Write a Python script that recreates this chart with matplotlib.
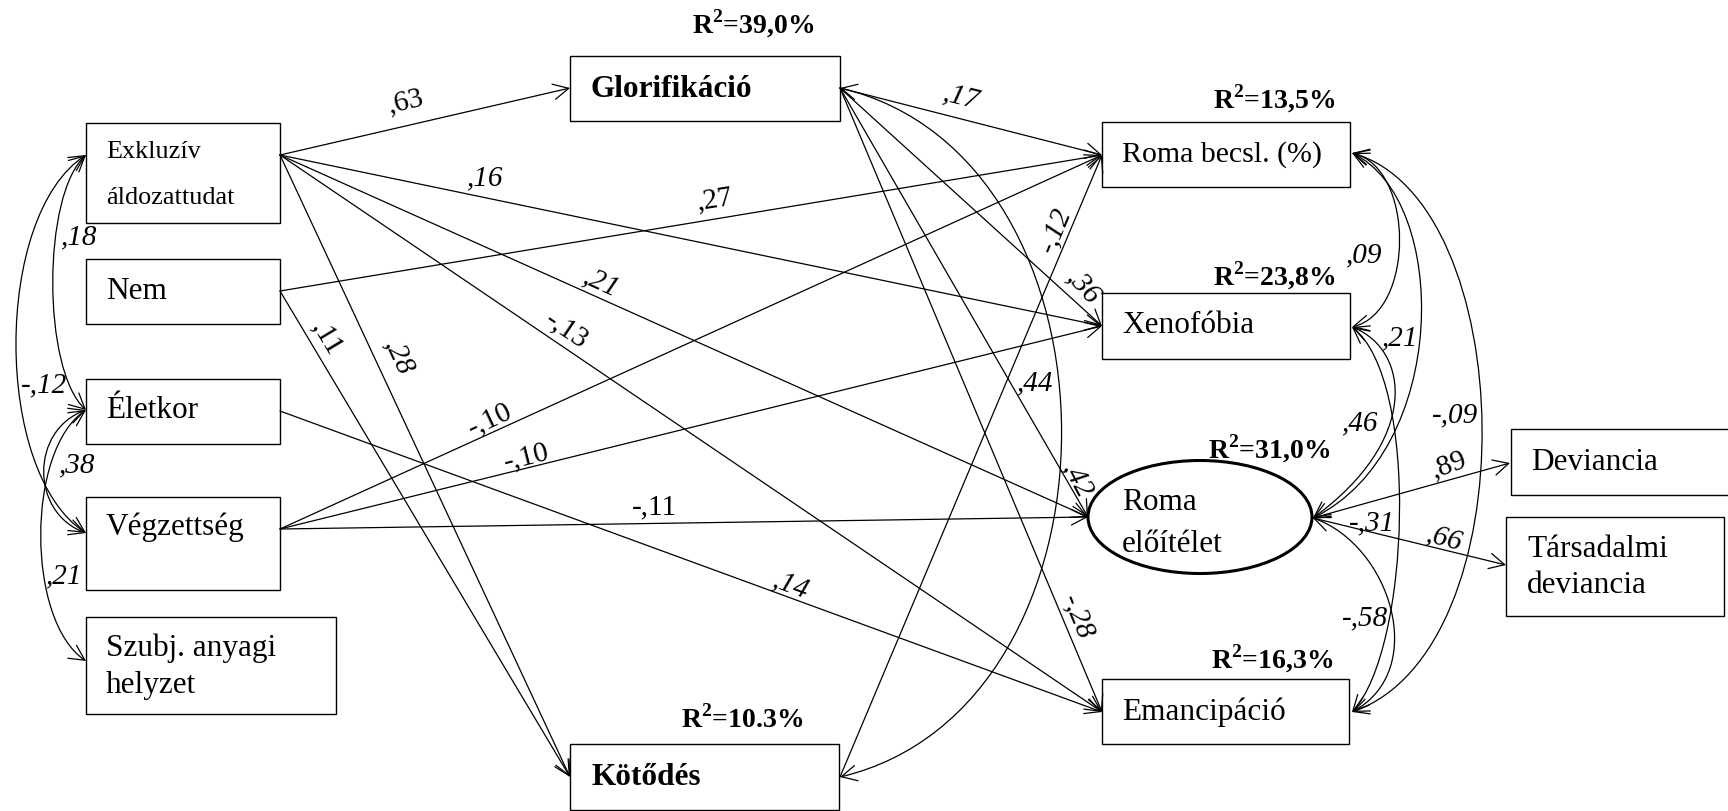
import matplotlib
matplotlib.use("Agg")
import matplotlib.pyplot as plt
from matplotlib.patches import Rectangle, Ellipse, FancyArrowPatch
from matplotlib.path import Path

plt.rcParams['font.family'] = ['Liberation Serif', 'DejaVu Serif']
plt.rcParams['mathtext.fontset'] = 'custom'
plt.rcParams['mathtext.rm'] = 'Liberation Serif'
plt.rcParams['mathtext.bf'] = 'Liberation Serif:bold'

# ---------------- data ----------------
node_ids = ['EXK', 'NEM', 'ELE', 'VEG', 'SZU', 'GLO', 'KOT', 'RB', 'XEN', 'RE', 'EMA', 'DEV', 'TDEV']
node_labels = ['Exkluzív\náldozattudat', 'Nem', 'Életkor', 'Végzettség', 'Szubj. anyagi\nhelyzet',
               'Glorifikáció', 'Kötődés', 'Roma becsl. (%)', 'Xenofóbia', 'Roma\nelőítélet',
               'Emancipáció', 'Deviancia', 'Társadalmi\ndeviancia']

r2_nodes = ['GLO', 'KOT', 'RB', 'XEN', 'RE', 'EMA']
r2_values = ['39,0%', '10.3%', '13,5%', '23,8%', '31,0%', '16,3%']

path_from = ['EXK', 'EXK', 'EXK', 'EXK', 'EXK', 'NEM', 'NEM', 'ELE', 'VEG', 'VEG', 'VEG',
             'GLO', 'GLO', 'GLO', 'GLO', 'KOT', 'RE', 'RE']
path_to = ['GLO', 'XEN', 'RE', 'EMA', 'KOT', 'RB', 'KOT', 'EMA', 'RB', 'XEN', 'RE',
           'RB', 'XEN', 'RE', 'EMA', 'RB', 'DEV', 'TDEV']
path_coef = [',63', ',16', ',21', '-,13', ',28', ',27', ',11', ',14', '-,10', '-,10', '-,11',
             ',17', ',36', ',42', '-,28', '-,12', ',89', ',66']

cov_a = ['EXK', 'EXK', 'ELE', 'ELE', 'GLO', 'RB', 'RB', 'XEN', 'XEN', 'RE', 'RB']
cov_b = ['ELE', 'VEG', 'VEG', 'SZU', 'KOT', 'XEN', 'RE', 'RE', 'EMA', 'EMA', 'EMA']
cov_coef = [',18', '-,12', ',38', ',21', ',44', ',09', ',21', ',46', '-,31', '-,58', '-,09']

# ---------------- layout (pixel coordinates) ----------------
boxes = {
    'EXK': (86, 123, 194, 100), 'NEM': (86, 259, 194, 65), 'ELE': (86, 379, 194, 65),
    'VEG': (86, 497, 194, 93), 'SZU': (86, 617, 250, 97), 'GLO': (570, 56, 270, 65),
    'KOT': (570, 744, 269, 66), 'RB': (1102, 122, 248, 65), 'XEN': (1102, 293, 248, 66),
    'EMA': (1102, 679, 247, 65), 'DEV': (1511, 429, 220, 66), 'TDEV': (1506, 517, 218, 99),
}
ellipse_geom = {'RE': (1200, 517, 224, 113)}

label_pos = {  # x, first baseline, line spacing, size, weight
    'EXK': (106, 158, 46, 18.8, 'normal'), 'NEM': (106, 299, 0, 22.5, 'normal'),
    'ELE': (106, 418, 0, 22.5, 'normal'), 'VEG': (106, 535, 0, 22.5, 'normal'),
    'SZU': (106, 656, 37, 22.5, 'normal'), 'GLO': (591, 97, 0, 22.5, 'bold'),
    'KOT': (591, 785, 0, 22.5, 'bold'), 'RB': (1122, 162, 0, 21.5, 'normal'),
    'XEN': (1122, 333, 0, 22.5, 'normal'), 'RE': (1122, 510, 42, 22.5, 'normal'),
    'EMA': (1122, 720, 0, 22.5, 'normal'), 'DEV': (1531, 470, 0, 22.5, 'normal'),
    'TDEV': (1527, 557, 36, 22.5, 'normal'),
}
r2_pos = {'GLO': (692, 33), 'KOT': (681, 728), 'RB': (1213, 108), 'XEN': (1213, 285),
          'RE': (1208, 458), 'EMA': (1211, 668)}

ports_out = {'EXK': (280, 155), 'NEM': (280, 291), 'ELE': (280, 411), 'VEG': (280, 529),
             'GLO': (840, 88), 'KOT': (840, 777), 'RE': (1313, 518)}
ports_in = {'GLO': (570, 88), 'RB': (1102, 155), 'XEN': (1102, 326), 'RE': (1088, 517),
            'EMA': (1102, 712), 'KOT': (570, 777), 'DEV': (1510, 463), 'TDEV': (1506, 565)}
ports_cov = {'EXK': (86, 155), 'ELE': (86, 410), 'VEG': (86, 533), 'SZU': (86, 661),
             'GLO': (840, 88), 'KOT': (840, 777), 'RB': (1352, 153), 'XEN': (1352, 327),
             'RE': (1313, 518), 'EMA': (1352, 712)}
# control point offsets (dx1, dy1, dx2, dy2) relative to the two ends
cov_ctrl = [(-44, 40, -44, -40), (-93, 60, -93, -60), (-56, 20, -56, -20), (-60, 40, -60, -40),
            (295, 70, 295, -70), (63, 15, 63, -15), (98, 47, 137, -68), (58, 23, 107, -78),
            (68, 53, 58, -62), (77, 27, 78, -42), (168, 47, 178, -62)]

path_lab = [(406, 102, 13, 0), (484, 178, 0, 1), (600, 283, -24, 1), (566, 330, -34, 0),
            (398, 357, -65, 1), (715, 200, 9, 0), (327, 338, -59, 0), (790, 585, -20, 1),
            (490, 420, 25, 0), (526, 457, 14, 0), (654, 507, 0, 0), (961, 97, -14, 1),
            (1083, 287, -48, 1), (1077, 480, -62, 1), (1077, 617, -68, 1), (1055, 230, 67, 1),
            (1449, 465, 20, 0), (1444, 538, -15, 1)]
cov_lab = [(78, 237), (44, 385), (76, 465), (63, 576), (1034, 383), (1363, 255), (1399, 338),
           (1359, 423), (1372, 523), (1365, 618), (1455, 415)]

W, H = 1728, 811
fig = plt.figure(figsize=(W / 100, H / 100), dpi=100)
ax = fig.add_axes([0, 0, 1, 1])
ax.set_xlim(0, W)
ax.set_ylim(H, 0)
ax.axis('off')

LW = 0.9
head = '->,head_length=0.55,head_width=0.28'
head2 = '<->,head_length=0.55,head_width=0.28'

for nid, lab in zip(node_ids, node_labels):
    x, base, sp, size, wt = label_pos[nid]
    if nid in boxes:
        bx, by, bw, bh = boxes[nid]
        ax.add_patch(Rectangle((bx, by), bw, bh, fill=False, lw=1.0, ec='black', zorder=3))
    else:
        cx, cy, ew, eh = ellipse_geom[nid]
        ax.add_patch(Ellipse((cx, cy), ew, eh, fill=True, fc='white', lw=2.2, ec='black', zorder=3))
    for i, line in enumerate(lab.split('\n')):
        ax.text(x, base + i * sp, line, fontsize=size, fontweight=wt, ha='left', va='baseline', zorder=5)

for nid, val in zip(r2_nodes, r2_values):
    x, y = r2_pos[nid]
    ax.text(x, y, r'R$^{\mathbf{2}}$=' + val, fontsize=20, fontweight='bold',
            ha='left', va='baseline', zorder=5)

for (a, b, c), (lx, ly, rot, it) in zip(zip(path_from, path_to, path_coef), path_lab):
    p0 = ports_out[a]
    p1 = ports_in[b]
    arr = FancyArrowPatch(p0, p1, arrowstyle=head, mutation_scale=20, lw=LW, color='black',
                          shrinkA=0, shrinkB=0, zorder=2)
    ax.add_patch(arr)
    ax.text(lx, ly, c, fontsize=21, fontstyle='italic' if it else 'normal', rotation=rot,
            ha='center', va='center', rotation_mode='anchor', zorder=4)

for (a, b, c), (dx1, dy1, dx2, dy2), (lx, ly) in zip(zip(cov_a, cov_b, cov_coef), cov_ctrl, cov_lab):
    p0 = ports_cov[a]
    p3 = ports_cov[b]
    verts = [p0, (p0[0] + dx1, p0[1] + dy1), (p3[0] + dx2, p3[1] + dy2), p3]
    pth = Path(verts, [Path.MOVETO, Path.CURVE4, Path.CURVE4, Path.CURVE4])
    arr = FancyArrowPatch(path=pth, arrowstyle=head2, mutation_scale=20, lw=LW, color='black', zorder=2)
    ax.add_patch(arr)
    ax.text(lx, ly, c, fontsize=21, fontstyle='italic', ha='center', va='center', zorder=4)

fig.savefig('out.png', dpi=100, facecolor='white')
